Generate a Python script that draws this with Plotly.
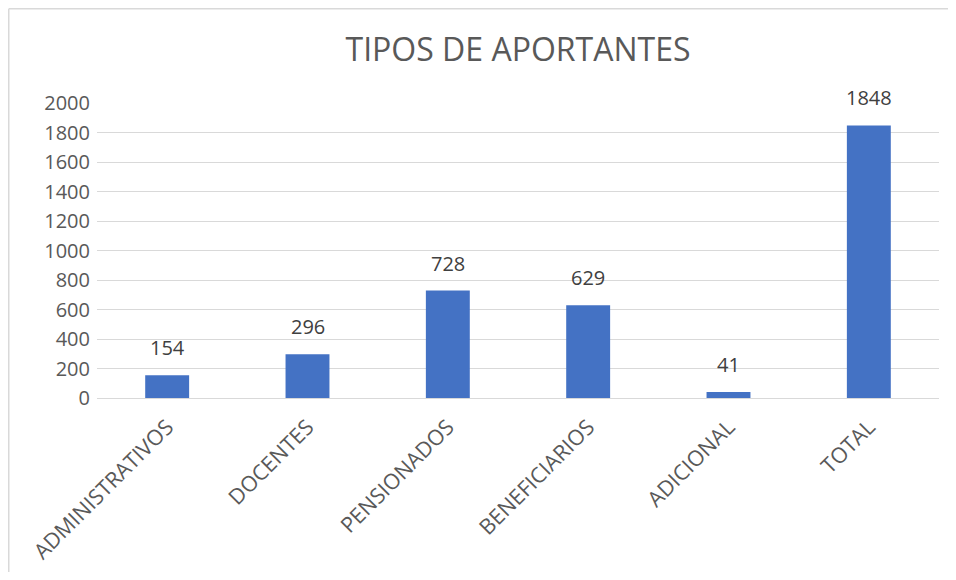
import plotly.graph_objects as go

categories = ["ADMINISTRATIVOS", "DOCENTES", "PENSIONADOS", "BENEFICIARIOS", "ADICIONAL", "TOTAL"]
values = [154, 296, 728, 629, 41, 1848]
y_ticks = [0, 200, 400, 600, 800, 1000, 1200, 1400, 1600, 1800, 2000]
title_text = "TIPOS DE APORTANTES"

# page body adds an 8px margin on every side; figure sized so the page does not overflow
W, H = 940, 564
L, R, T, B = 89, 9, 95, 174
pw, ph = W - L - R, H - T - B

fig = go.Figure()
fig.add_trace(go.Bar(
    x=categories, y=values,
    marker=dict(color="#4472C4", line=dict(width=0)),
    hoverinfo="x+y",
))

for c, v in zip(categories, values):
    fig.add_annotation(
        x=c, y=v, text=str(v), showarrow=False,
        yanchor="bottom", yshift=12,
        font=dict(family="Open Sans", size=20, color="#404040"),
    )

def px_x(p):
    return (p - L) / pw

def px_y(p):
    return (H - B - p) / ph

# chart-area border (only top and left edges fall inside the window)
fig.add_shape(type="line", xref="paper", yref="paper",
              x0=px_x(0.75), x1=px_x(W), y0=px_y(0.75), y1=px_y(0.75),
              line=dict(color="#D9D9D9", width=1.5), layer="below")
fig.add_shape(type="line", xref="paper", yref="paper",
              x0=px_x(0.75), x1=px_x(0.75), y0=px_y(0.75), y1=px_y(H),
              line=dict(color="#D9D9D9", width=1.5), layer="below")

fig.update_layout(
    width=W, height=H,
    margin=dict(l=L, r=R, t=T, b=B, autoexpand=False),
    paper_bgcolor="white", plot_bgcolor="white",
    title=dict(text=title_text, x=0.5, xref="paper", xanchor="center",
               y=1 - 42 / H, yref="container", yanchor="middle",
               font=dict(family="Open Sans", size=32, color="#595959")),
    bargap=0.687,
    showlegend=False,
    font=dict(family="Open Sans", color="#595959"),
)
fig.update_xaxes(
    tickangle=-45, tickfont=dict(family="Open Sans", size=21.5, color="#595959"),
    showgrid=False, showline=True, linecolor="#D9D9D9", linewidth=1,
    ticks="", ticklabelstandoff=7,
)
fig.update_yaxes(
    range=[0, 2000], tickvals=y_ticks, ticktext=[str(t) for t in y_ticks],
    tickfont=dict(family="Open Sans", size=20, color="#595959"),
    showgrid=True, gridcolor="#D9D9D9", gridwidth=1,
    zeroline=False, showline=False, ticks="", ticklabelstandoff=6,
)

fig.write_html("out.html")
